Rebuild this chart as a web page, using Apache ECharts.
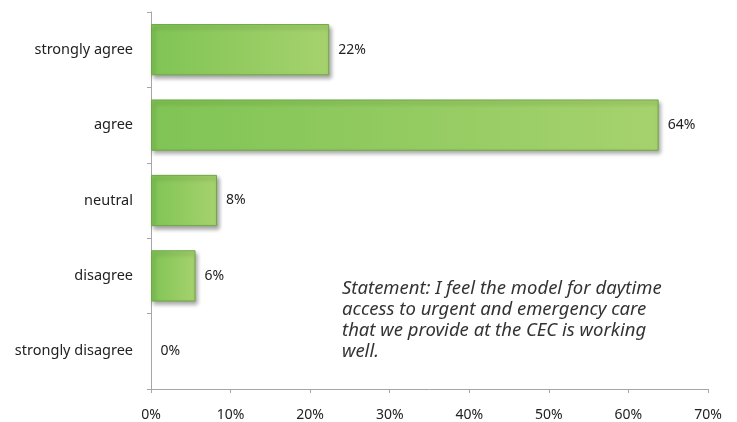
<!DOCTYPE html>
<html>
<head>
<meta charset="utf-8">
<script src="https://cdn.jsdelivr.net/npm/echarts@6/dist/echarts.min.js"></script>
<style>
    html, body { margin: 0; padding: 0; background: #fff; }
    #bar_statement { width: 737px; height: 422px; }
</style>
</head>
<body>
<div id="bar_statement"></div>
<script>

// Chart data
// ------------------------------

var categories = ['strongly disagree', 'disagree', 'neutral', 'agree', 'strongly agree'];
var percentValues = [0, 5.6, 8.3, 63.8, 22.4];
var tickLabels = ['0%', '10%', '20%', '30%', '40%', '50%', '60%', '70%'];
var statementText = 'Statement: I feel the model for daytime\naccess to urgent and emergency care\nthat we provide at the CEC is working\nwell.';


// Setup module
// ------------------------------

var EchartsBarStatement = function() {

    var _barStatement = function() {
        if (typeof echarts == 'undefined') {
            console.warn('Warning - echarts.min.js is not loaded.');
            return;
        }

        var bar_element = document.getElementById('bar_statement');
        if (!bar_element) return;

        var bar_chart = echarts.init(bar_element, null, { renderer: 'canvas' });

        // Empty bars get no border or shadow
        var barData = percentValues.map(function (v) {
            if (v > 0) return v;
            return {
                value: v,
                itemStyle: { borderColor: 'transparent', shadowColor: 'transparent' }
            };
        });

        bar_chart.setOption({

            textStyle: {
                fontFamily: '"Noto Sans", sans-serif',
                color: '#222'
            },

            animation: false,

            grid: {
                left: 151,
                right: 29,
                top: 12,
                bottom: 33
            },

            // Horizontal axis
            xAxis: {
                type: 'value',
                min: 0,
                max: 70,
                interval: 10,
                axisLine: {
                    show: true,
                    lineStyle: { color: '#a6a6a6', width: 1 }
                },
                axisTick: {
                    show: true,
                    length: 4,
                    lineStyle: { color: '#a6a6a6' }
                },
                splitLine: { show: false },
                axisLabel: {
                    margin: 19,
                    fontSize: 14,
                    color: '#222',
                    formatter: function (value) {
                        return tickLabels[Math.round(value / 10)];
                    }
                }
            },

            // Vertical axis
            yAxis: {
                type: 'category',
                data: categories,
                axisLine: {
                    show: true,
                    lineStyle: { color: '#a6a6a6', width: 1 }
                },
                axisTick: {
                    show: true,
                    length: 4,
                    lineStyle: { color: '#a6a6a6' }
                },
                axisLabel: {
                    margin: 18,
                    fontSize: 14.5,
                    color: '#222'
                }
            },

            // Statement note
            graphic: [{
                type: 'text',
                left: 342,
                top: 278,
                style: {
                    text: statementText,
                    font: 'italic 18.5px "Noto Sans", sans-serif',
                    lineHeight: 21,
                    fill: '#333'
                }
            }],

            series: [{
                type: 'bar',
                data: barData,
                barWidth: '68%',
                itemStyle: {
                    color: new echarts.graphic.LinearGradient(0, 0, 1, 0, [
                        { offset: 0, color: '#80c455' },
                        { offset: 1, color: '#a6d26d' }
                    ]),
                    borderColor: '#6ea845',
                    borderWidth: 1,
                    shadowBlur: 4,
                    shadowOffsetX: 2,
                    shadowOffsetY: 3,
                    shadowColor: 'rgba(0,0,0,0.35)'
                },
                label: {
                    show: true,
                    position: 'right',
                    distance: 9,
                    fontSize: 14,
                    color: '#222',
                    formatter: function (params) {
                        return Math.round(params.value) + '%';
                    }
                }
            }]
        });
    };

    return {
        init: function() {
            _barStatement();
        }
    }
}();

document.addEventListener('DOMContentLoaded', function() {
    EchartsBarStatement.init();
});
</script>
</body>
</html>
